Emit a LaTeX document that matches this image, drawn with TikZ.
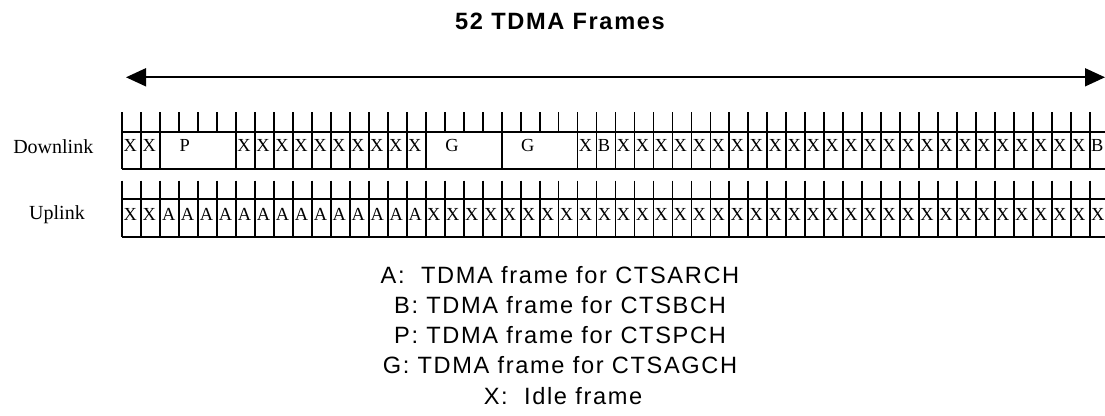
\documentclass[tikz,border=0pt]{standalone}
\usepackage{fontspec}
\setmainfont{Liberation Serif}
\newfontfamily\legendfont[LetterSpace=7]{Liberation Sans}
\usetikzlibrary{arrows.meta,positioning}

\tikzset{
  frame/.style={line width=1.3pt},
  slot/.style={inner sep=0pt, anchor=base west, font=\fontsize{13.8}{15}\selectfont},
  rowlabel/.style={inner sep=0pt, anchor=base, font=\fontsize{15}{18}\selectfont},
  legend/.style={inner sep=0pt, anchor=base, font=\legendfont\fontsize{17.7}{20}\selectfont},
  heading/.style={legend, font=\legendfont\bfseries\fontsize{17.7}{20}\selectfont},
  span/.style={line width=1.3pt, {Triangle[length=15pt,width=13.5pt]}-{Triangle[length=15pt,width=13.5pt]}},
}

\begin{document}
\begin{tikzpicture}[x=0.75pt,y=-0.75pt]
  \useasboundingbox (0,0) rectangle (1105,416);

  \node[heading] (title) at (560,29.3) {52 TDMA Frames};
  \coordinate (spanL) at (126,77.3);
  \coordinate (spanR) at (1105,77.3);
  \draw[span] (spanL) -- (spanR);

  % downlink row
  \node[rowlabel] (down) at (53.3,153.3) {Downlink};
  \foreach \k in {3,4,5,17,18,19,21,22,23}
    \draw[frame] ({122.3+18.97*\k},112.3) -- ({122.3+18.97*\k},131.7);
  \foreach \k in {0,1,2,6,7,...,16,20,24,25,...,52}
    \draw[frame] ({122.3+18.97*\k},112.3) -- ({122.3+18.97*\k},169.3);
  \draw[frame] (122.3,131.7) -- (1110,131.7) (122.3,169.3) -- (1110,169.3);
  \foreach \k in {0,1,6,7,...,15,24,26,27,...,50}
    \node[slot] (dx\k) at ({123.3+18.97*\k},151.5) {X};
  \foreach \k in {25,51}
    \node[slot] (db\k) at ({123.3+18.97*\k},151.5) {B};
  \node[slot] (dp) at ({122.5+18.97*3},151.5) {P};
  \foreach \k in {17,21}
    \node[slot] (dg\k) at ({122.5+18.97*\k},151.5) {G};

  % uplink row
  \node[rowlabel] (up) at (57,220) {Uplink};
  \foreach \k in {0,...,52}
    \draw[frame] ({122.3+18.97*\k},180.7) -- ({122.3+18.97*\k},236.7);
  \draw[frame] (122.3,199) -- (1110,199) (122.3,236.7) -- (1110,236.7);
  \foreach \k in {0,1,16,17,...,51}
    \node[slot] (ux\k) at ({123.3+18.97*\k},221) {X};
  \foreach \k in {2,...,15}
    \node[slot] (ua\k) at ({123.8+18.97*\k},221) {A};

  % legend
  \node[legend] (legA) at (560,283.5) {A:\ \ TDMA frame for CTSARCH};
  \node[legend] (legB) at (560,313.5) {B: TDMA frame for CTSBCH};
  \node[legend] (legP) at (560,343.5) {P: TDMA frame for CTSPCH};
  \node[legend] (legG) at (560,373.5) {G: TDMA frame for CTSAGCH};
  \node[legend] (legX) at (563,404) {X:\ \ Idle frame};
\end{tikzpicture}
\end{document}
